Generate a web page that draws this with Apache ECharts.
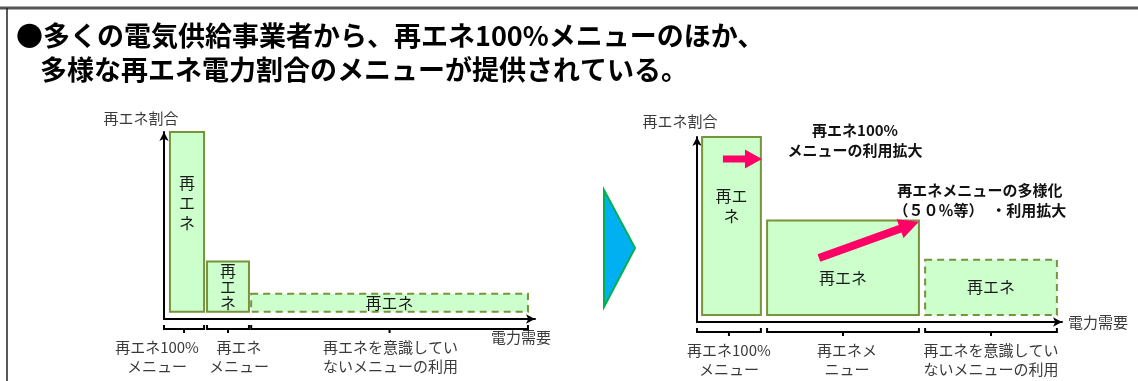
<!DOCTYPE html>
<html>
<head>
<meta charset="utf-8">
<script src="https://cdn.jsdelivr.net/npm/echarts@6/dist/echarts.min.js"></script>
<style>
html, body { margin: 0; padding: 0; background: #fff; }
#chart { width: 1138px; height: 381px; }
</style>
</head>
<body>
<div id="chart"></div>
<script>
// 左：現状　需要の範囲 [開始, 終了] と再エネ割合
var leftRanges = [[1.6, 10.8], [11.6, 22.9], [23.5, 98.1]];
var leftShares = [100, 28, 10];
var leftBarText = ['再\nエ\nネ', '再\nエ\nネ', '再エネ'];
var leftCategories = ['再エネ100%\nメニュー', '再エネ\nメニュー', '再エネを意識してい\nないメニューの利用'];

// 右：今後
var rightRanges = [[1.4, 17.5], [19.2, 60.8], [62.5, 98.6]];
var rightShares = [100, 53, 31];
var rightBarText = ['再エ\nネ', '再エネ', '再エネ'];
var rightCategories = ['再エネ100%\nメニュー', '再エネメ\nニュー', '再エネを意識してい\nないメニューの利用'];

// 矢印 [x0, y0, x1, y1]
var rightArrows = [[7.1, 87.7, 17.8, 87.7], [33.4, 32, 60.8, 52.3]];
var rightNotes = ['再エネ100%\nメニューの利用拡大', '再エネメニューの多様化\n（５０％等）　・利用拡大'];

// 見た目の調整（位置・スタイル）
var FONT = '"Noto Sans CJK JP", "Noto Sans", sans-serif';
var leftTextStyle = { dy: [-19, 0, 0], lh: [20, 16, 20] };
var rightTextStyle = { dy: [-20, 10, 0], lh: [20, 20, 20] };
var leftLabelDx = [-27, 11, 1];
var rightLabelDx = [0, 4, 0];
var rightNotePos = [[43.3, 98.4], [77.5, 64.6]];
var arrowSizes = [[7, 17, 19], [8, 20, 20]];

function barRender(texts, ts) {
    return function (params, api) {
        var i = params.dataIndex;
        var p0 = api.coord([api.value(0), 0]);
        var p1 = api.coord([api.value(1), api.value(2)]);
        var x = p0[0], y = p1[1], w = p1[0] - p0[0], h = p0[1] - p1[1];
        return {
            type: 'group',
            children: [{
                type: 'rect',
                shape: { x: x, y: y, width: w, height: h },
                style: {
                    fill: '#ccffcc', stroke: '#77933c', lineWidth: 2,
                    lineDash: i === 2 ? [7, 5] : null
                }
            }, {
                type: 'text',
                style: {
                    text: texts[i], x: x + w / 2, y: y + h / 2 + ts.dy[i],
                    align: 'center', verticalAlign: 'middle',
                    font: '16px ' + FONT, fill: '#1a1a1a', lineHeight: ts.lh[i]
                }
            }]
        };
    };
}

function braceRender(labels, dx) {
    return function (params, api) {
        var i = params.dataIndex;
        var a = api.coord([api.value(0), -4]);
        var b = api.coord([api.value(1), -4]);
        var y = a[1] + 10, xc = (a[0] + b[0]) / 2;
        return {
            type: 'group',
            children: [{
                type: 'polyline',
                shape: { points: [[a[0], y - 4], [a[0], y], [b[0], y], [b[0], y - 4]] },
                style: { stroke: '#000', lineWidth: 2, fill: null }
            }, {
                type: 'line',
                shape: { x1: xc, y1: y, x2: xc, y2: y + 4 },
                style: { stroke: '#000', lineWidth: 2 }
            }, {
                type: 'text',
                style: {
                    text: labels[i], x: xc + dx[i], y: a[1] + 38,
                    align: 'center', verticalAlign: 'middle',
                    font: '15px ' + FONT, fill: '#3a3a3a', lineHeight: 19
                }
            }]
        };
    };
}

function arrowPoints(a, b, shaft, headLen, headW) {
    var dx = b[0] - a[0], dy = b[1] - a[1];
    var len = Math.sqrt(dx * dx + dy * dy);
    var ux = dx / len, uy = dy / len, nx = -uy, ny = ux;
    var bx = b[0] - ux * headLen, by = b[1] - uy * headLen;
    return [
        [a[0] + nx * shaft / 2, a[1] + ny * shaft / 2],
        [bx + nx * shaft / 2, by + ny * shaft / 2],
        [bx + nx * headW / 2, by + ny * headW / 2],
        b,
        [bx - nx * headW / 2, by - ny * headW / 2],
        [bx - nx * shaft / 2, by - ny * shaft / 2],
        [a[0] - nx * shaft / 2, a[1] - ny * shaft / 2]
    ];
}

function arrowRender(params, api) {
    var i = params.dataIndex;
    var a = api.coord([api.value(0), api.value(1)]);
    var b = api.coord([api.value(2), api.value(3)]);
    var s = arrowSizes[i];
    var n = api.coord(rightNotePos[i]);
    return {
        type: 'group',
        children: [{
            type: 'polygon',
            shape: { points: arrowPoints(a, b, s[0], s[1], s[2]) },
            style: { fill: '#ff0066' }
        }, {
            type: 'text',
            style: {
                text: rightNotes[i], x: n[0], y: n[1],
                align: 'center', verticalAlign: 'middle',
                font: 'bold 15px ' + FONT, fill: '#111', lineHeight: 20
            }
        }]
    };
}

function braces(ranges) {
    return ranges.map(function (r, i) { return [i === 0 ? 0 : r[0], r[1]]; });
}

function axisPair(gridIndex, namePadY, namePadX, xName) {
    var line = {
        onZero: false,
        symbol: ['none', 'arrow'], symbolSize: [7, 9],
        lineStyle: { color: '#000', width: 2 }
    };
    return {
        x: {
            type: 'value', gridIndex: gridIndex, min: 0, max: 100,
            axisLine: line, axisTick: { show: false }, axisLabel: { show: false },
            splitLine: { show: false },
            name: '電力需要', nameLocation: 'end', nameGap: xName.gap,
            nameTextStyle: {
                fontFamily: FONT, fontSize: 15, color: '#3a3a3a',
                align: xName.align, verticalAlign: xName.va, padding: xName.pad
            }
        },
        y: {
            type: 'value', gridIndex: gridIndex, min: -4, max: 100,
            axisLine: line, axisTick: { show: false }, axisLabel: { show: false },
            splitLine: { show: false },
            name: '再エネ割合', nameLocation: 'end', nameGap: namePadY,
            nameTextStyle: {
                fontFamily: FONT, fontSize: 15, color: '#3a3a3a',
                align: 'center', padding: [0, namePadX, 0, 0]
            }
        }
    };
}

var leftAxes = axisPair(0, 6, 46, { gap: -14, align: 'center', va: 'top', pad: [11, 0, 0, 0] });
var rightAxes = axisPair(1, 8, 34, { gap: 6, align: 'left', va: 'middle', pad: [10, 0, 0, 0] });

var myChart = echarts.init(document.getElementById('chart'));
myChart.setOption({
    animation: false,
    backgroundColor: '#fff',
    title: [{
        text: '●多くの電気供給事業者から、再エネ100%メニューのほか、',
        left: 16, top: 22, padding: 0,
        textStyle: { fontFamily: FONT, fontSize: 27, fontWeight: 'bold', color: '#000' }
    }, {
        text: '多様な再エネ電力割合のメニューが提供されている。',
        left: 40, top: 56, padding: 0,
        textStyle: { fontFamily: FONT, fontSize: 27, fontWeight: 'bold', color: '#000' }
    }],
    grid: [
        { left: 164, right: 603, top: 132, bottom: 62 },
        { left: 697, right: 76, top: 137, bottom: 59 }
    ],
    xAxis: [leftAxes.x, rightAxes.x],
    yAxis: [leftAxes.y, rightAxes.y],
    graphic: [{
        type: 'line', shape: { x1: 0, y1: 8, x2: 1138, y2: 8 },
        style: { stroke: '#555', lineWidth: 3 }
    }, {
        type: 'line', shape: { x1: 7, y1: 8, x2: 7, y2: 381 },
        style: { stroke: '#222', lineWidth: 1.5 }
    }, {
        type: 'polygon', shape: { points: [[604, 190], [635, 248], [604, 307]] },
        style: { fill: '#00b0f0', stroke: '#00b050', lineWidth: 2 }
    }],
    series: [{
        type: 'custom', xAxisIndex: 0, yAxisIndex: 0,
        renderItem: barRender(leftBarText, leftTextStyle),
        data: leftRanges.map(function (r, i) { return [r[0], r[1], leftShares[i]]; })
    }, {
        type: 'custom', xAxisIndex: 0, yAxisIndex: 0, clip: false,
        renderItem: braceRender(leftCategories, leftLabelDx),
        data: braces(leftRanges)
    }, {
        type: 'custom', xAxisIndex: 1, yAxisIndex: 1,
        renderItem: barRender(rightBarText, rightTextStyle),
        data: rightRanges.map(function (r, i) { return [r[0], r[1], rightShares[i]]; })
    }, {
        type: 'custom', xAxisIndex: 1, yAxisIndex: 1, clip: false,
        renderItem: braceRender(rightCategories, rightLabelDx),
        data: braces(rightRanges)
    }, {
        type: 'custom', xAxisIndex: 1, yAxisIndex: 1, clip: false, z: 5,
        renderItem: arrowRender,
        data: rightArrows
    }]
});
</script>
</body>
</html>
